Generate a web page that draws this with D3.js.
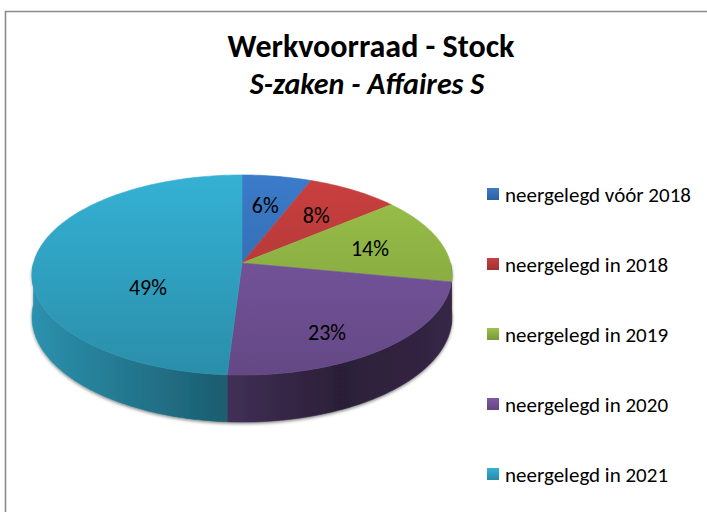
<!DOCTYPE html>
<html>
<head>
<meta charset="utf-8">
<script src="https://cdn.jsdelivr.net/npm/d3@7"></script>
<style>
  html, body { margin: 0; padding: 0; background: #fff; }
  svg { display: block; }
</style>
</head>
<body>
<div id="chart"></div>
<script>
// Stock of S cases by year of filing
const categories = [
  "neergelegd vóór 2018",
  "neergelegd in 2018",
  "neergelegd in 2019",
  "neergelegd in 2020",
  "neergelegd in 2021"
];
const values = [6, 8, 14, 23, 49];
const colors = ["#3b7bc9", "#c9403f", "#9bc24a", "#7d5aa6", "#35b1d4"];
const title = "Werkvoorraad - Stock";
const subtitle = "S-zaken - Affaires S";

const W = 707, H = 512;
const font = "Carlito, Lato, 'Open Sans', sans-serif";

const svg = d3.select("#chart").append("svg")
  .attr("width", W).attr("height", H);
const defs = svg.append("defs");

// Chart frame (top and left edges visible)
svg.append("path")
  .attr("d", "M5.5,512 V11.5 H707")
  .attr("fill", "none").attr("stroke", "#8a8a8a").attr("stroke-width", 1.6);

// Titles
svg.append("text")
  .attr("x", 371).attr("y", 57)
  .attr("text-anchor", "middle")
  .attr("font-family", font).attr("font-weight", 700).attr("font-size", 32)
  .attr("fill", "#000").text(title);
svg.append("text")
  .attr("x", 367).attr("y", 94)
  .attr("text-anchor", "middle")
  .attr("font-family", font).attr("font-weight", 700).attr("font-style", "italic")
  .attr("font-size", 30).attr("fill", "#000").text(subtitle);

// Perspective-projected 3D pie
const cx = 242, cy = 263;      // projected centre of the top face
const R = 208.5;               // radius on screen at centre depth
const tilt = 0.473;            // vertical squash of the disc
const persp = 0.12;            // perspective strength (far side smaller)
const depth = 41.4;            // thickness of the disc

function proj(theta, h) {
  const X = Math.sin(theta), Z = Math.cos(theta);
  const d = 1 + persp * Z;
  return [cx + R * X / d, cy - tilt * R * Z / d + h * depth / d];
}
function arcPoints(a0, a1, h) {
  const n = Math.max(2, Math.ceil(Math.abs(a1 - a0) / (Math.PI / 180)));
  return d3.range(n + 1).map(i => proj(a0 + (a1 - a0) * i / n, h));
}

const pie = d3.pie().sort(null).value(d => d.value);
const slices = pie(categories.map((c, i) => ({ name: c, value: values[i], color: colors[i] })));

function shade(c, k) {
  const r = d3.rgb(c);
  return d3.rgb(r.r * k, r.g * k, r.b * k).formatHex();
}

// Gradients: top faces darken downwards, sides darken towards the right
slices.forEach((s, i) => {
  const gt = defs.append("linearGradient").attr("id", "top" + i)
    .attr("gradientUnits", "userSpaceOnUse")
    .attr("x1", 0).attr("y1", 175).attr("x2", 0).attr("y2", 375);
  gt.append("stop").attr("offset", 0).attr("stop-color", shade(s.data.color, 1.0));
  gt.append("stop").attr("offset", 1).attr("stop-color", shade(s.data.color, 0.8));

  const gs = defs.append("linearGradient").attr("id", "side" + i)
    .attr("gradientUnits", "userSpaceOnUse")
    .attr("x1", 32).attr("y1", 0).attr("x2", 452).attr("y2", 0);
  [[0, 0.82], [0.47, 0.52], [0.73, 0.34], [1, 0.42]].forEach(([o, k]) =>
    gs.append("stop").attr("offset", o).attr("stop-color", shade(s.data.color, k)));
});

const shadow = defs.append("filter").attr("id", "shadow")
  .attr("x", "-10%").attr("y", "-10%").attr("width", "120%").attr("height", "130%");
shadow.append("feDropShadow").attr("dx", 0).attr("dy", 1.5)
  .attr("stdDeviation", 1.8).attr("flood-color", "#000").attr("flood-opacity", 0.45);

const line = d3.line();
const sideG = svg.append("g").attr("filter", "url(#shadow)");
const topG = svg.append("g");

const front0 = Math.PI / 2, front1 = 3 * Math.PI / 2;
const sideShapes = [];

slices.forEach((s, i) => {
  const a0 = Math.max(s.startAngle, front0), a1 = Math.min(s.endAngle, front1);
  if (a1 > a0) {
    const pts = arcPoints(a0, a1, 0).concat(arcPoints(a1, a0, 1));
    sideShapes.push({ i, pts });
    sideG.append("path")
      .attr("d", line(pts) + "Z")
      .attr("fill", `url(#side${i})`)
      .attr("stroke", `url(#side${i})`).attr("stroke-width", 0.6);
  }
});

const topShapes = slices.map((s, i) => {
  const pts = [[cx, cy]].concat(arcPoints(s.startAngle, s.endAngle, 0));
  topG.append("path")
    .attr("d", line(pts) + "Z")
    .attr("fill", `url(#top${i})`)
    .attr("stroke", `url(#top${i})`).attr("stroke-width", 0.6)
    .attr("stroke-linejoin", "round");
  return pts;
});

// Data labels at the weighted centroid of each slice's visible faces,
// nudged outwards along the slice's mid-angle for narrow slices
const labelG = svg.append("g");
slices.forEach((s, i) => {
  const tp = topShapes[i];
  let A = Math.abs(d3.polygonArea(tp));
  const c = d3.polygonCentroid(tp);
  let sx = c[0] * A, sy = c[1] * A;
  const side = sideShapes.find(d => d.i === i);
  if (side) {
    const a = Math.abs(d3.polygonArea(side.pts)) * 0.6;
    const sc = d3.polygonCentroid(side.pts);
    sx += sc[0] * a; sy += sc[1] * a; A += a;
  }
  labelG.append("text")
    .attr("x", sx / A).attr("y", sy / A)
    .attr("text-anchor", "middle").attr("dominant-baseline", "central")
    .attr("font-family", font).attr("font-size", 22).attr("fill", "#000")
    .text(s.data.value + "%");
});

// Legend
const legend = svg.append("g");
const ly = d3.scalePoint().domain(categories).range([194, 474]);
categories.forEach((c, i) => {
  const lg = defs.append("linearGradient").attr("id", "leg" + i)
    .attr("x1", 0).attr("y1", 0).attr("x2", 0).attr("y2", 1);
  lg.append("stop").attr("offset", 0).attr("stop-color", shade(colors[i], 1.0));
  lg.append("stop").attr("offset", 1).attr("stop-color", shade(colors[i], 0.78));
  const g = legend.append("g").attr("transform", `translate(487,${ly(c)})`);
  g.append("rect").attr("x", 0).attr("y", -6).attr("width", 12).attr("height", 12)
    .attr("fill", `url(#leg${i})`);
  g.append("text").attr("x", 18).attr("y", 1)
    .attr("dominant-baseline", "central")
    .attr("font-family", font).attr("font-size", 21).attr("fill", "#000")
    .text(c);
});
</script>
</body>
</html>
